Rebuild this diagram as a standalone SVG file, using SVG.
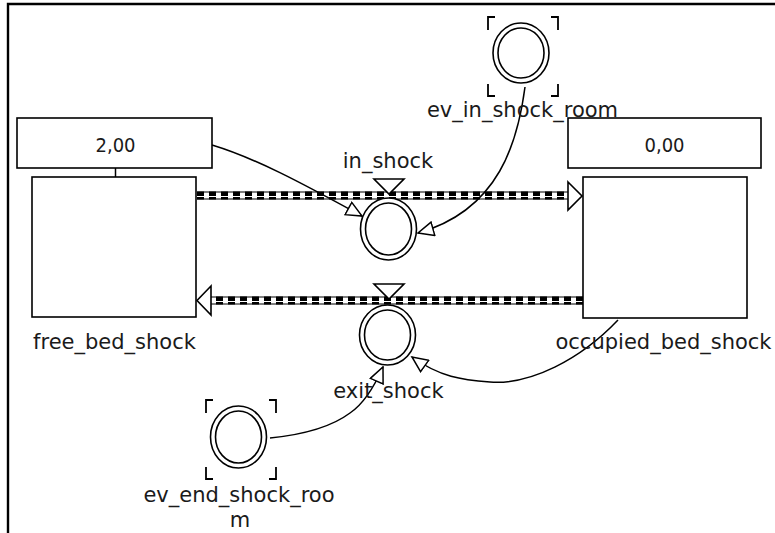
<svg xmlns="http://www.w3.org/2000/svg" width="775" height="533" viewBox="0 0 775 533">
<style>
.box{fill:#fff;stroke:#000;stroke-width:1.6}
.ring{fill:#fff;stroke:#000;stroke-width:1.6}
.lbl{font-family:"DejaVu Sans",sans-serif;font-size:21px;fill:#1a1a1a;text-anchor:middle}
.num{font-family:"DejaVu Sans Condensed","DejaVu Sans",sans-serif;font-size:20px;fill:#1a1a1a;text-anchor:middle}
.pipeA{stroke:#000;stroke-width:8;stroke-dasharray:7 5;fill:none}
.pipeE{stroke:#000;stroke-width:1.2;fill:none}
.pipeC{stroke:#fff;stroke-width:1;fill:none}
.head{fill:#fff;stroke:#000;stroke-width:1.6}
.link{fill:none;stroke:#000;stroke-width:1.5}
.brk{fill:none;stroke:#000;stroke-width:1.8}
</style>
<defs>
<marker id="arr" markerUnits="userSpaceOnUse" viewBox="0 0 18 16" refX="16.5" refY="8" markerWidth="18" markerHeight="16" orient="auto">
<path d="M1,1 L16.5,8 L1,15 Z" fill="#fff" stroke="#000" stroke-width="1.5"/>
</marker>
</defs>
<rect width="775" height="533" fill="#fff"/>
<g id="frame">
<path d="M8,534 V4 H776" fill="none" stroke="#000" stroke-width="2.4"/>
</g>
<g id="connectors">
<path class="pipeA" d="M197,195.5 H569"/>
<path class="pipeE" d="M197,192 H569 M197,199 H569"/>
<path class="pipeC" d="M197,196.5 H569"/>
<polygon class="head" points="568,182 582,196 568,210"/>
<path class="pipeA" d="M583,300.5 H210"/>
<path class="pipeE" d="M583,297 H210 M583,304 H210"/>
<path class="pipeC" d="M583,301.5 H210"/>
<polygon class="head" points="211,286 197,300.5 211,315"/>
<path class="link" d="M115.5,168 V177"/>
<path class="link" marker-end="url(#arr)" d="M212,145 C 255,158 300,182 362,216"/>
<path class="link" marker-end="url(#arr)" d="M525,87 C 518,140 500,210 418,233"/>
<path class="link" marker-end="url(#arr)" d="M618,320 C 580,360 530,385 490,382 C 462,380 440,377 412,357"/>
<path class="link" marker-end="url(#arr)" d="M270,438 C 300,435 330,428 350,413 C 365,403 375,385 383,367"/>
</g>
<g id="free_bed_shock">
<rect class="box" x="17" y="118" width="195" height="50"/>
<text class="num" x="115.5" y="152">2,00</text>
<rect class="box" x="32" y="177" width="164" height="140"/>
<text class="lbl" x="114.5" y="349">free_bed_shock</text>
</g>
<g id="occupied_bed_shock">
<rect class="box" x="568" y="118" width="193" height="50"/>
<text class="num" x="664.5" y="152">0,00</text>
<rect class="box" x="583" y="177" width="164" height="141"/>
<text class="lbl" x="663.5" y="349">occupied_bed_shock</text>
</g>
<g id="in_shock">
<polygon class="head" points="374,179 404,179 389,194"/>
<ellipse class="ring" cx="388.5" cy="229" rx="28" ry="31"/>
<ellipse class="ring" cx="388.5" cy="229" rx="23" ry="26"/>
<text class="lbl" x="388" y="168">in_shock</text>
</g>
<g id="exit_shock">
<polygon class="head" points="374,284 404,284 389,299"/>
<ellipse class="ring" cx="387.5" cy="335" rx="28" ry="30"/>
<ellipse class="ring" cx="387.5" cy="335" rx="23" ry="25"/>
<text class="lbl" x="388.5" y="398">exit_shock</text>
</g>
<g id="ev_in_shock_room">
<path class="brk" d="M488,30 V17 H495 M551,17 H558 V30 M488,84 V96 H495 M551,96 H558 V84"/>
<ellipse class="ring" cx="521" cy="53" rx="28" ry="30"/>
<ellipse class="ring" cx="521" cy="53" rx="23" ry="25"/>
<text class="lbl" x="522.5" y="117">ev_in_shock_room</text>
</g>
<g id="ev_end_shock_room">
<path class="brk" d="M206,413 V400 H213 M269,400 H276 V413 M206,467 V479 H213 M269,479 H276 V467"/>
<ellipse class="ring" cx="238.5" cy="437" rx="28" ry="31"/>
<ellipse class="ring" cx="238.5" cy="437" rx="23" ry="26"/>
<text class="lbl" x="239" y="502">ev_end_shock_roo</text>
<text class="lbl" x="240" y="527">m</text>
</g>
</svg>
